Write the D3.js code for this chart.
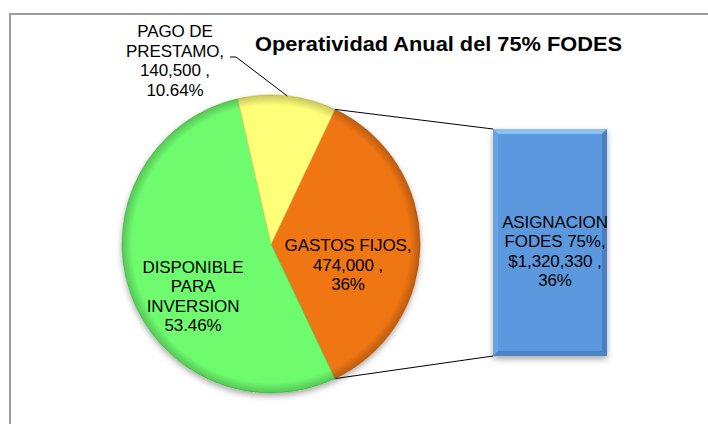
<!DOCTYPE html>
<html>
<head>
<meta charset="utf-8">
<script src="https://cdn.jsdelivr.net/npm/d3@7"></script>
<style>
  html, body { margin: 0; padding: 0; background: #fff; }
  svg { display: block; font-family: "Liberation Sans", Arial, sans-serif; }
</style>
</head>
<body>
<svg id="chart" width="708" height="424"></svg>
<script>
// Pie slices: the "other" group (GASTOS FIJOS) faces the bar on the right
const categories = ["GASTOS FIJOS", "DISPONIBLE PARA INVERSION", "PAGO DE PRESTAMO"];
const values = [474000, 705830, 140500];
const sliceColors = ["#f07614", "#6efc6e", "#ffff78"];
const sliceLabels = [
  ["GASTOS FIJOS,", "474,000 ,", "36%"],
  ["DISPONIBLE", "PARA", "INVERSION", "53.46%"],
  ["PAGO DE", "PRESTAMO,", "140,500 ,", "10.64%"]
];

// Secondary bar (total allocation)
const barCategory = ["ASIGNACION FODES 75%"];
const barValue = [1320330];
const barLabel = ["ASIGNACION", "FODES 75%,", "$1,320,330 ,", "36%"];

const titleText = "Operatividad Anual del 75% FODES";

const svg = d3.select("#chart");
const defs = svg.append("defs");

// soft drop shadow
const sh = defs.append("filter").attr("id", "shadow")
  .attr("x", "-20%").attr("y", "-20%").attr("width", "140%").attr("height", "140%");
sh.append("feDropShadow").attr("dx", 0).attr("dy", 3).attr("stdDeviation", 3)
  .attr("flood-color", "#000").attr("flood-opacity", 0.35);

// rim darkening for the pie bevel
const rim = defs.append("radialGradient").attr("id", "rim")
  .attr("gradientUnits", "userSpaceOnUse");
rim.append("stop").attr("offset", "0.93").attr("stop-color", "#000").attr("stop-opacity", 0);
rim.append("stop").attr("offset", "1").attr("stop-color", "#000").attr("stop-opacity", 0.22);

// chart frame
svg.append("rect")
  .attr("x", 10).attr("y", 14).attr("width", 760).attr("height", 480)
  .attr("fill", "#fff").attr("stroke", "#9c9c9c").attr("stroke-width", 2);

// title
svg.append("text")
  .attr("x", 255).attr("y", 51)
  .attr("font-size", 21).attr("font-weight", "bold")
  .attr("textLength", 367).attr("lengthAdjust", "spacingAndGlyphs")
  .attr("fill", "#000")
  .text(titleText);

// pie geometry
const cx = 271, cy = 244, r = 149;
const total = d3.sum(values);
const otherSpan = values[0] / total * 2 * Math.PI;
const start = Math.PI / 2 - otherSpan / 2;

const pie = d3.pie().sort(null).value(d => d)
  .startAngle(start).endAngle(start + 2 * Math.PI);
const arcs = pie(values);
const arc = d3.arc().innerRadius(0).outerRadius(r);

const g = svg.append("g").attr("transform", `translate(${cx},${cy})`);

// shadow disc under the pie
g.append("circle").attr("r", r).attr("fill", "#fff").attr("filter", "url(#shadow)");

g.selectAll("path.slice").data(arcs).join("path")
  .attr("class", "slice")
  .attr("d", arc)
  .attr("fill", (d, i) => sliceColors[i])
  .attr("stroke", (d, i) => d3.color(sliceColors[i]).darker(0.5))
  .attr("stroke-width", 0.8);

rim.attr("cx", cx).attr("cy", cy).attr("r", r);
svg.append("circle").attr("cx", cx).attr("cy", cy).attr("r", r)
  .attr("fill", "url(#rim)").attr("pointer-events", "none");

// bar scale (single column for the total)
const barX = d3.scaleBand().domain(barCategory).range([493, 607]).padding(0);
const barY = d3.scaleLinear().domain([0, barValue[0]]).range([356, 129]);
const bx = barX(barCategory[0]), bw = barX.bandwidth();
const by = barY(barValue[0]), bh = barY(0) - barY(barValue[0]);

// connector lines from the "other" slice edges to the bar corners
const a0 = arcs[0].startAngle, a1 = arcs[0].endAngle;
const p0 = [cx + r * Math.sin(a0), cy - r * Math.cos(a0)];
const p1 = [cx + r * Math.sin(a1), cy - r * Math.cos(a1)];
svg.append("line").attr("x1", p0[0]).attr("y1", p0[1]).attr("x2", bx).attr("y2", by)
  .attr("stroke", "#000").attr("stroke-width", 1);
svg.append("line").attr("x1", p1[0]).attr("y1", p1[1]).attr("x2", bx).attr("y2", by + bh)
  .attr("stroke", "#000").attr("stroke-width", 1);

// bar with bevel
const bg = svg.append("g");
bg.append("rect").attr("x", bx).attr("y", by).attr("width", bw).attr("height", bh)
  .attr("fill", "#5b98de").attr("filter", "url(#shadow)");
const bev = 5;
bg.append("path") // top bevel (light)
  .attr("d", `M${bx},${by}L${bx + bw},${by}L${bx + bw - bev},${by + bev}L${bx + bev},${by + bev}Z`)
  .attr("fill", "#8fbef0");
bg.append("path") // left bevel
  .attr("d", `M${bx},${by}L${bx + bev},${by + bev}L${bx + bev},${by + bh - bev}L${bx},${by + bh}Z`)
  .attr("fill", "#6aa4e6");
bg.append("path") // right bevel (dark)
  .attr("d", `M${bx + bw},${by}L${bx + bw},${by + bh}L${bx + bw - bev},${by + bh - bev}L${bx + bw - bev},${by + bev}Z`)
  .attr("fill", "#4a80c0");
bg.append("path") // bottom bevel (dark)
  .attr("d", `M${bx},${by + bh}L${bx + bw},${by + bh}L${bx + bw - bev},${by + bh - bev}L${bx + bev},${by + bh - bev}Z`)
  .attr("fill", "#4c84c6");

// multi-line label helper
function label(lines, x, y0, lh) {
  const t = svg.append("text").attr("font-size", 17).attr("fill", "#000")
    .attr("text-anchor", "middle").attr("letter-spacing", -0.1);
  lines.forEach((s, i) => t.append("tspan").attr("x", x).attr("y", y0 + i * lh).text(s));
  return t;
}

// slice labels
label(sliceLabels[0], 348, 251, 19.5);
label(sliceLabels[1], 193, 273, 19.4);
label(sliceLabels[2], 175, 37, 19.5);

// leader line for the small slice, ending at its mid-angle on the rim
const ym = (arcs[2].startAngle + arcs[2].endAngle) / 2;
const lp = [cx + r * Math.sin(ym), cy - r * Math.cos(ym)];
svg.append("polyline")
  .attr("points", `230,57 236,57 ${lp[0]},${lp[1]}`)
  .attr("fill", "none").attr("stroke", "#000").attr("stroke-width", 1);

// bar label
label(barLabel, 555, 228, 19.4);
</script>
</body>
</html>
